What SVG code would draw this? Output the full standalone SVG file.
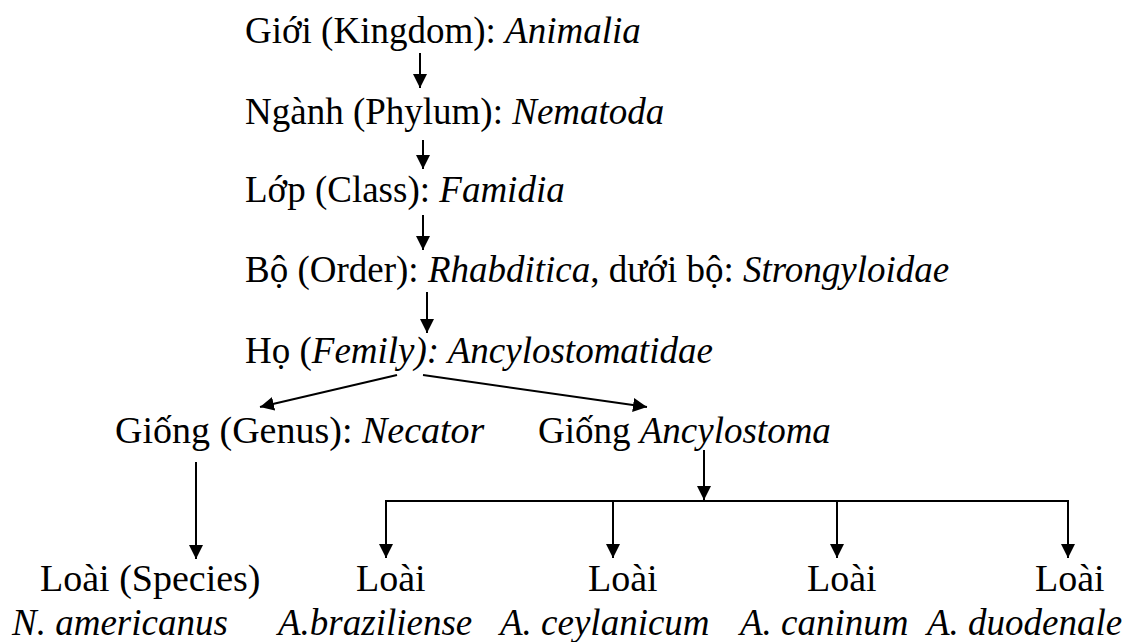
<svg xmlns="http://www.w3.org/2000/svg" width="1129" height="642" viewBox="0 0 1129 642">
<defs>
<marker id="ah" markerUnits="userSpaceOnUse" markerWidth="15" markerHeight="14" refX="14" refY="7" orient="auto">
<path d="M0,0 L14,7 L0,14 Z" fill="#000"/>
</marker>
</defs>
<rect width="1129" height="642" fill="#fff"/>
<g id="connectors" stroke="#000" stroke-width="2" fill="none">
<line x1="420" y1="53" x2="420" y2="88" marker-end="url(#ah)"/>
<line x1="423" y1="140" x2="423" y2="169" marker-end="url(#ah)"/>
<line x1="423" y1="215" x2="423" y2="250" marker-end="url(#ah)"/>
<line x1="427" y1="292" x2="427" y2="333" marker-end="url(#ah)"/>
<line x1="397" y1="375" x2="260" y2="407" marker-end="url(#ah)"/>
<line x1="423" y1="375" x2="647" y2="407" marker-end="url(#ah)"/>
<line x1="196" y1="462" x2="196" y2="559" marker-end="url(#ah)"/>
<line x1="704" y1="450" x2="704" y2="500" marker-end="url(#ah)"/>
<polyline points="386,530 386,501 1068,501 1068,530"/>
<line x1="386" y1="501" x2="386" y2="558" marker-end="url(#ah)"/>
<line x1="613" y1="501" x2="613" y2="558" marker-end="url(#ah)"/>
<line x1="837" y1="501" x2="837" y2="558" marker-end="url(#ah)"/>
<line x1="1068" y1="501" x2="1068" y2="558" marker-end="url(#ah)"/>
</g>
<g id="kingdom"><text x="245" y="43" font-family="'Liberation Serif', serif" font-size="37">Giới (Kingdom): <tspan font-style="italic">Animalia</tspan></text></g>
<g id="phylum"><text x="245" y="124" font-family="'Liberation Serif', serif" font-size="37">Ngành (Phylum): <tspan font-style="italic">Nematoda</tspan></text></g>
<g id="class"><text x="245" y="202" font-family="'Liberation Serif', serif" font-size="37">Lớp (Class): <tspan font-style="italic">Famidia</tspan></text></g>
<g id="order"><text x="245" y="282" font-family="'Liberation Serif', serif" font-size="37">Bộ (Order): <tspan font-style="italic">Rhabditica</tspan>, dưới bộ: <tspan font-style="italic">Strongyloidae</tspan></text></g>
<g id="family"><text x="245" y="363" font-family="'Liberation Serif', serif" font-size="37">Họ (<tspan font-style="italic">Femily): Ancylostomatidae</tspan></text></g>
<g id="genus-necator"><text x="115" y="443" font-family="'Liberation Serif', serif" font-size="38">Giống (Genus): <tspan font-style="italic">Necator</tspan></text></g>
<g id="genus-ancylostoma"><text x="538" y="443" font-family="'Liberation Serif', serif" font-size="37">Giống <tspan font-style="italic">Ancylostoma</tspan></text></g>
<g id="species-1"><text x="40" y="591" font-family="'Liberation Serif', serif" font-size="38">Loài (Species)</text><text x="12" y="635" font-family="'Liberation Serif', serif" font-size="37" font-style="italic">N. americanus</text></g>
<g id="species-2"><text x="356" y="591" font-family="'Liberation Serif', serif" font-size="38">Loài</text><text x="278" y="635" font-family="'Liberation Serif', serif" font-size="37" font-style="italic">A.braziliense</text></g>
<g id="species-3"><text x="588" y="591" font-family="'Liberation Serif', serif" font-size="38">Loài</text><text x="500" y="635" font-family="'Liberation Serif', serif" font-size="37" font-style="italic">A. ceylanicum</text></g>
<g id="species-4"><text x="807" y="591" font-family="'Liberation Serif', serif" font-size="38">Loài</text><text x="740" y="635" font-family="'Liberation Serif', serif" font-size="37" font-style="italic">A. caninum</text></g>
<g id="species-5"><text x="1035" y="591" font-family="'Liberation Serif', serif" font-size="38">Loài</text><text x="927" y="635" font-family="'Liberation Serif', serif" font-size="37" font-style="italic">A. duodenale</text></g>
</svg>
